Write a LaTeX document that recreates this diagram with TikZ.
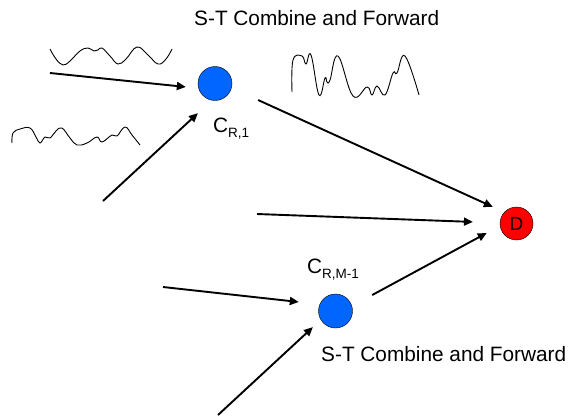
\documentclass[tikz,border=0pt]{standalone}
\usepackage{fontspec}
\setmainfont{Liberation Sans}
\usetikzlibrary{arrows.meta}
\definecolor{relayblue}{RGB}{0,102,255}
\newcommand{\nodesub}[1]{\raisebox{-5pt}{\fontsize{13.5}{14}\selectfont #1}}

\begin{document}
\begin{tikzpicture}[
  x=1pt, y=-1pt,
  relay/.style={circle, draw, thin, fill=relayblue, minimum size=34pt, inner sep=0pt},
  dest/.style={circle, draw, thin, fill=red, minimum size=33pt, inner sep=0pt, font=\fontsize{19}{19}\selectfont},
  lbl/.style={anchor=base west, inner sep=0pt, font=\fontsize{20.8}{24}\selectfont},
  arrow/.style={-{Triangle[length=9pt,width=8pt]}, line width=1.9pt},
  wave/.style={line width=0.9pt, smooth, tension=0.7}
]
\useasboundingbox (0,0) rectangle (572,416);

\node[relay] (cr1) at (215,83.5) {};
\node[relay] (cm) at (335.5,311) {};
\node[dest] (d) at (516.5,223.5) {D};

\node[lbl] (title) at (194,25) {S-T Combine and Forward};
\node[lbl] (subtitle) at (321,361) {S-T Combine and Forward};
\node[lbl] (cr1lbl) at (213,132) {C\nodesub{R,1}};
\node[lbl] (cmlbl) at (307,273) {C\nodesub{R,M-1}};

\coordinate (in1a) at (50,73);
\coordinate (in1b) at (103,201);
\coordinate (ind) at (257,214);
\coordinate (in2a) at (163,287);
\coordinate (in2b) at (218,415);

% received waveforms
\draw[wave] plot coordinates {(50,49) (56,59) (63,65) (70,61) (80,51) (88,48) (94,51) (98,50) (102,48) (110,56) (118,64) (126,59) (137,47) (148,55) (158,64) (166,59) (172,49)};
\draw[wave] plot coordinates {(12,143) (13,133) (20,129) (30,128) (36,137) (40,143) (45,137) (50,138) (56,131) (62,128) (70,138) (77,145) (87,143) (97,137) (102,142) (112,135) (117,136) (125,127) (132,135) (140,145)};
\draw[wave] plot coordinates {(292,92) (293,60) (302,56) (306,64) (311,55) (319,95) (325,78) (327,82) (330,80) (338,56) (353,96) (367,87) (372,95) (377,86) (385,95) (393,73) (397,73) (405,56) (419,95)};

\draw[arrow, shorten >=12.7pt] (in1a) -- (cr1.196);
\draw[arrow, shorten >=18.8pt] (in1b) -- (cr1.259);
\draw[arrow, shorten <=29.2pt, shorten >=12.6pt] (cr1.345) -- (d.137);
\draw[arrow, shorten >=26.9pt] (ind) -- (d.178);
\draw[arrow, shorten <=23pt, shorten >=15pt] (cm.17) -- (d.188);
\draw[arrow, shorten >=21pt] (in2a) -- (cm.157);
\draw[arrow, shorten >=10.7pt] (in2b) -- (cm.211);
\end{tikzpicture}
\end{document}
